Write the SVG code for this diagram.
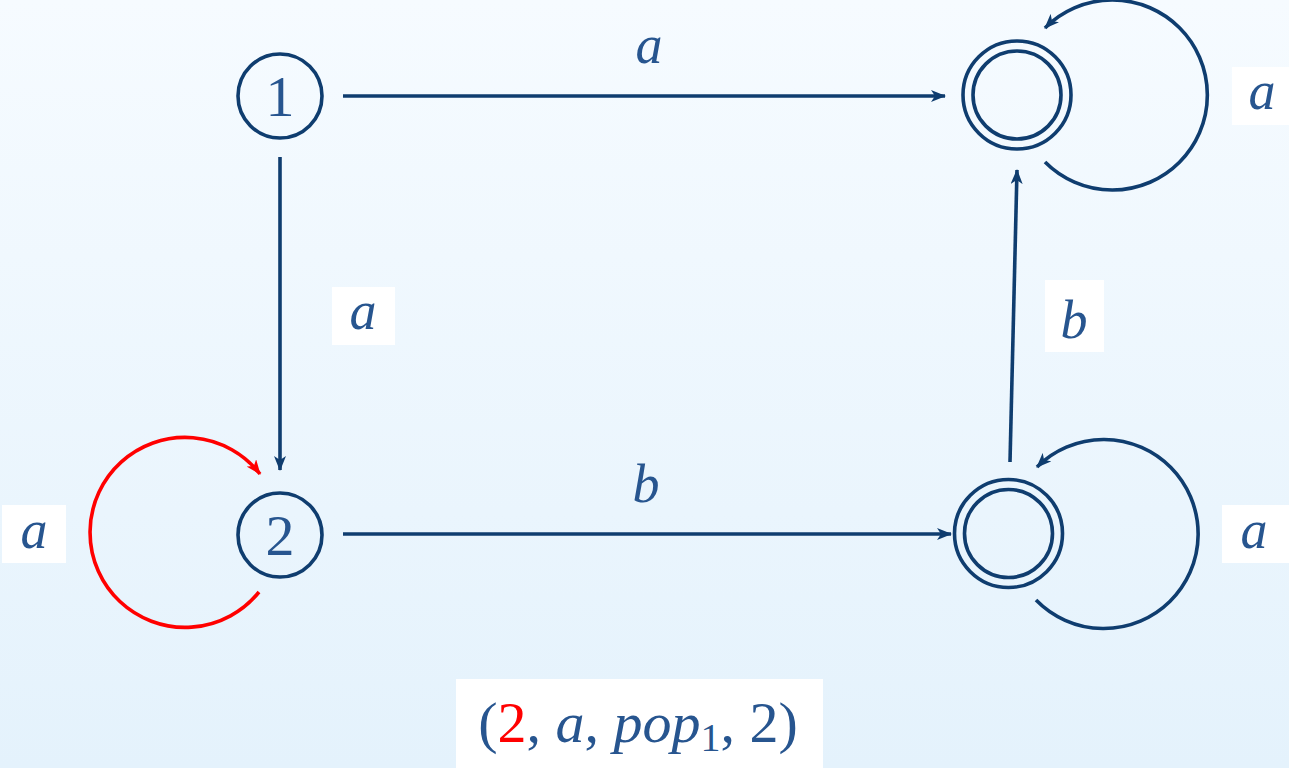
<svg xmlns="http://www.w3.org/2000/svg" width="1289" height="768" viewBox="0 0 1289 768">
<defs>
<linearGradient id="bg" x1="0" y1="0" x2="0" y2="1">
<stop offset="0" stop-color="#f6fbff"/>
<stop offset="1" stop-color="#e4f2fc"/>
</linearGradient>
<marker id="arr" viewBox="0 0 15 12" refX="14" refY="6" markerWidth="15" markerHeight="12" markerUnits="userSpaceOnUse" orient="auto">
<path d="M0,0 L15,6 L0,12 L4,6 z" fill="#0f3d6f"/>
</marker>
<marker id="arrR" viewBox="0 0 15 12" refX="14" refY="6" markerWidth="15" markerHeight="12" markerUnits="userSpaceOnUse" orient="auto">
<path d="M0,0 L15,6 L0,12 L4,6 z" fill="#ff0000"/>
</marker>
</defs>
<style>
.st{fill:none;stroke:#0f3d6f;stroke-width:3.6}
.red{fill:none;stroke:#ff0000;stroke-width:3.6}
.lbl{font-family:"Liberation Serif",serif;font-style:italic;font-size:54px;fill:#27558f;text-anchor:middle}
.num{font-family:"Liberation Serif",serif;font-size:58px;fill:#27558f;text-anchor:middle}
.box{fill:#ffffff}
</style>
<rect x="0" y="0" width="1289" height="768" fill="url(#bg)"/>
<g id="connectors">
<line class="st" x1="343" y1="96" x2="945" y2="96" marker-end="url(#arr)"/>
<line class="st" x1="280" y1="157" x2="280" y2="470" marker-end="url(#arr)"/>
<line class="st" x1="343" y1="534" x2="951" y2="534" marker-end="url(#arr)"/>
<line class="st" x1="1010" y1="462" x2="1017" y2="170" marker-end="url(#arr)"/>
<path class="st" d="M1045,162 A95,95 0 1 0 1045,28" marker-end="url(#arr)"/>
<path class="st" d="M1036,600 A94.5,94.5 0 1 0 1037,467" marker-end="url(#arr)"/>
<path class="red" d="M259,592 A95,95 0 1 1 260,474" marker-end="url(#arrR)"/>
<text class="lbl" x="649" y="63">a</text>
<text class="lbl" x="646" y="502">b</text>
<rect class="box" x="332" y="287" width="63" height="58"/>
<text class="lbl" x="363" y="329">a</text>
<rect class="box" x="1045" y="280" width="59" height="72"/>
<text class="lbl" x="1074" y="338">b</text>
<rect class="box" x="1232" y="67" width="57" height="58"/>
<text class="lbl" x="1262" y="109">a</text>
<rect class="box" x="1222" y="505" width="67" height="58"/>
<text class="lbl" x="1254" y="548">a</text>
<rect class="box" x="2" y="505" width="64" height="58"/>
<text class="lbl" x="34" y="548">a</text>
</g>
<g id="n1">
<circle class="st" cx="280" cy="96" r="42"/>
<text class="num" x="280" y="116">1</text>
</g>
<g id="n2">
<circle class="st" cx="280" cy="535" r="42"/>
<text class="num" x="280" y="555">2</text>
</g>
<g id="n3">
<circle class="st" cx="1017" cy="95" r="54"/>
<circle class="st" cx="1017" cy="95" r="44"/>
</g>
<g id="n4">
<circle class="st" cx="1008.5" cy="533.5" r="54"/>
<circle class="st" cx="1008.5" cy="533.5" r="44"/>
</g>
<g id="formula">
<rect class="box" x="456" y="679" width="367" height="89"/>
<text x="638" y="742" font-family="Liberation Serif, serif" font-size="58" fill="#27558f" text-anchor="middle">(<tspan fill="#ff0000">2</tspan>, <tspan font-style="italic">a</tspan>, <tspan font-style="italic">pop</tspan><tspan font-size="40" dy="9">1</tspan><tspan dy="-9">, 2)</tspan></text>
</g>
</svg>
